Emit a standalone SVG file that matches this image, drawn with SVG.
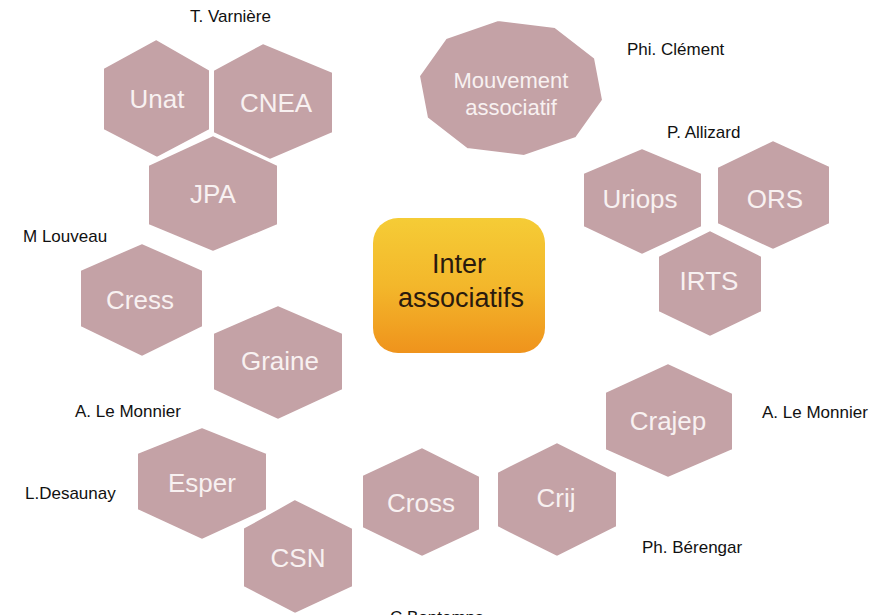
<svg xmlns="http://www.w3.org/2000/svg" width="893" height="615" viewBox="0 0 893 615">
<style>
.hex{fill:#C4A2A6;stroke:#FFFFFF;stroke-width:2;stroke-linejoin:round}
.ht{font-family:"Liberation Sans",Arial,sans-serif;font-size:26px;fill:#F8F1F1;text-anchor:middle}
.mt{font-family:"Liberation Sans",Arial,sans-serif;font-size:22px;fill:#F8F1F1;text-anchor:middle}
.lb{font-family:"Liberation Sans",Arial,sans-serif;font-size:17px;fill:#111111}
.ct{font-family:"Liberation Sans",Arial,sans-serif;font-size:27px;fill:#2A1A0E;text-anchor:middle}
</style>
<defs>
<linearGradient id="orange" x1="0" y1="0" x2="0" y2="1">
<stop offset="0" stop-color="#F5CC36"/>
<stop offset="0.5" stop-color="#F3B72B"/>
<stop offset="1" stop-color="#EF931C"/>
</linearGradient>
</defs>
<rect width="893" height="615" fill="#FFFFFF"/>
<g id="connectors"/>
<g id="node-unat"><polygon class="hex" points="156,39 210,70 210,130 157,158 103,130 103,68"/><text class="ht" x="157" y="108">Unat</text></g>
<g id="node-cnea"><polygon class="hex" points="263,43 333,72 333,133 270,160 213,133 213,70"/><text class="ht" x="276" y="112">CNEA</text></g>
<g id="node-jpa"><polygon class="hex" points="213,135 278,165 278,225 213,252 148,225 148,165"/><text class="ht" x="213" y="203">JPA</text></g>
<g id="node-mouvement"><polygon class="hex" points="419,76 446,38 498,20 555,27 595,58 603,100 576,138 524,156 467,149 427,118"/><text class="mt" x="511" y="88">Mouvement</text><text class="mt" x="511" y="115">associatif</text></g>
<g id="node-uriops"><polygon class="hex" points="642,148 702,173 702,227 642,255 583,227 583,173"/><text class="ht" x="640" y="208">Uriops</text></g>
<g id="node-ors"><polygon class="hex" points="773,140 830,166 830,224 773,250 717,224 717,167"/><text class="ht" x="775" y="208">ORS</text></g>
<g id="node-irts"><polygon class="hex" points="710,230 762,256 762,312 710,337 658,312 658,256"/><text class="ht" x="709" y="290">IRTS</text></g>
<g id="node-inter"><rect x="373" y="218" width="172" height="135" rx="25" ry="25" fill="url(#orange)"/><text class="ct" x="459" y="273">Inter</text><text class="ct" x="461" y="307">associatifs</text></g>
<g id="node-cress"><polygon class="hex" points="142,243 203,270 203,327 142,357 80,327 80,270"/><text class="ht" x="140" y="309">Cress</text></g>
<g id="node-graine"><polygon class="hex" points="278,305 343,333 343,390 278,420 213,390 213,333"/><text class="ht" x="280" y="370">Graine</text></g>
<g id="node-esper"><polygon class="hex" points="202,427 267,453 267,510 202,540 137,510 137,453"/><text class="ht" x="202" y="492">Esper</text></g>
<g id="node-csn"><polygon class="hex" points="295,499 353,528 353,587 295,614 243,587 243,528"/><text class="ht" x="298" y="567">CSN</text></g>
<g id="node-cross"><polygon class="hex" points="422,447 480,476 480,530 422,557 362,528 362,475"/><text class="ht" x="421" y="512">Cross</text></g>
<g id="node-crij"><polygon class="hex" points="557,442 617,472 617,527 557,557 497,527 497,472"/><text class="ht" x="556" y="507">Crij</text></g>
<g id="node-crajep"><polygon class="hex" points="668,363 733,393 733,450 668,478 605,450 605,392"/><text class="ht" x="668" y="430">Crajep</text></g>
<g id="labels">
<text class="lb" x="190" y="22">T. Varnière</text>
<text class="lb" x="627" y="55">Phi. Clément</text>
<text class="lb" x="667" y="138">P. Allizard</text>
<text class="lb" x="23" y="242">M Louveau</text>
<text class="lb" x="75" y="417">A. Le Monnier</text>
<text class="lb" x="25" y="499">L.Desaunay</text>
<text class="lb" x="762" y="418">A. Le Monnier</text>
<text class="lb" x="642" y="553">Ph. Bérengar</text>
<text class="lb" x="390" y="623">C.Bontemps</text>
</g>
</svg>
